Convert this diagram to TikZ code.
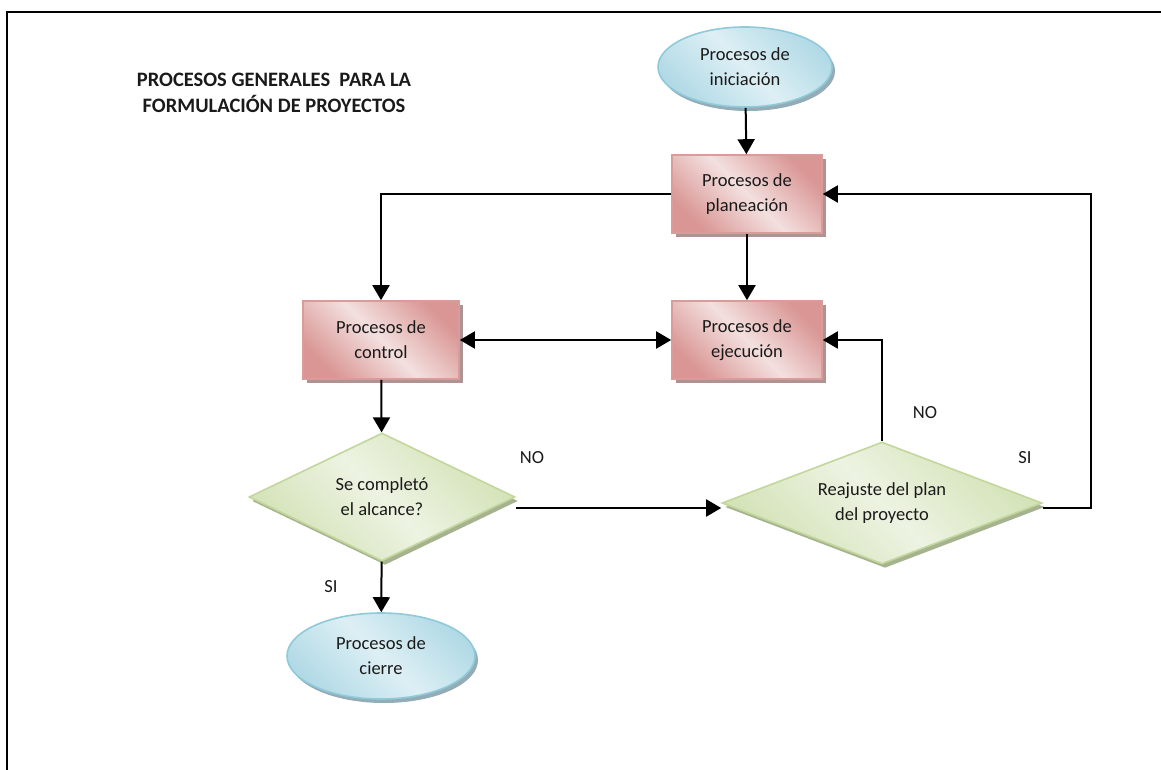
\documentclass[tikz,border=0pt]{standalone}
\usepackage{fontspec}
\setmainfont{Carlito}
\usetikzlibrary{shapes.geometric,arrows.meta,shadows}

\definecolor{txt}{HTML}{1A1A1A}
\definecolor{pinkdark}{HTML}{D99694}
\definecolor{pinklight}{HTML}{F3E0DF}
\definecolor{pinkline}{HTML}{DA9B9A}
\definecolor{pinkshadow}{HTML}{AE9393}
\definecolor{bluedark}{HTML}{B2DAE6}
\definecolor{bluelight}{HTML}{DDEFF4}
\definecolor{blueline}{HTML}{8FCADA}
\definecolor{blueshadow}{HTML}{93ACB5}
\definecolor{greendark}{HTML}{D3E2B6}
\definecolor{greenlight}{HTML}{EDF3E2}
\definecolor{greenline}{HTML}{C3D69B}
\definecolor{greenshadow}{HTML}{A6B38F}

\begin{document}
\begin{tikzpicture}[x=1pt,y=-1pt,
  >={Triangle[length=15pt,width=17pt]},
  every node/.style={font=\fontsize{18.5}{25}\selectfont, text=txt},
  proc/.style={rectangle, draw=pinkline, line width=1.6pt,
    minimum width=150pt, minimum height=78pt, inner sep=0pt, align=center,
    top color=pinkdark, bottom color=pinkdark, middle color=pinklight,
    shading angle=-45,
    drop shadow={shadow xshift=4pt, shadow yshift=-4pt, fill=pinkshadow, opacity=1}},
  term/.style={ellipse, draw=blueline, line width=1.6pt,
    inner sep=0pt, align=center,
    top color=bluedark, bottom color=bluedark, middle color=bluelight,
    shading angle=-45,
    drop shadow={shadow xshift=3pt, shadow yshift=-4pt, fill=blueshadow, opacity=1}},
  decision/.style={diamond, draw=greenline, line width=1.6pt, aspect=2,
    inner sep=0pt, align=center,
    top color=greendark, bottom color=greendark, middle color=greenlight,
    shading angle=-45,
    drop shadow={shadow xshift=3pt, shadow yshift=-4pt, fill=greenshadow, opacity=1}},
  arr/.style={line width=2pt, ->},
  lbl/.style={inner sep=0pt},
  heading/.style={font=\bfseries\fontsize{20.5}{26}\selectfont, align=center, inner sep=0pt}]

\useasboundingbox (0,0) rectangle (1161,770);

% page frame (left and top rules)
\draw[line width=2pt] (7,770) -- (7,12) -- (1161,12);

% heading
\node[heading] (title) at (274,93) {PROCESOS GENERALES\ \ PARA LA\\FORMULACIÓN DE PROYECTOS};

% process nodes
\node[term, minimum width=174pt, minimum height=80pt] (ini) at (745,67) {Procesos de\\iniciación};
\node[proc] (plan) at (747,194) {Procesos de\\planeación};
\node[proc, minimum width=156pt] (ctrl) at (381,340) {Procesos de\\control};
\node[proc] (ejec) at (747,340) {Procesos de\\ejecución};
\node[decision, minimum width=266pt, minimum height=128pt] (q1) at (382,497) {Se completó\\el alcance?};
\node[decision, minimum width=320pt, minimum height=122pt] (q2) at (882,503) {Reajuste del plan\\del proyecto};
\node[term, minimum width=188pt, minimum height=86pt] (fin) at (381,656) {Procesos de\\cierre};

% return column on the right and level of the NO branch
\coordinate (rt) at (1091,0);
\coordinate (lvl) at (0,508);

% connectors
\draw[arr] (ini) -- (plan);
\draw[arr] (plan.west) -| (ctrl.north);
\draw[arr] (plan) -- (ejec);
\draw[arr, <->] (ctrl) -- (ejec);
\draw[arr] (ctrl) -- (q1);
\draw[arr] (q1.east |- lvl) -- (q2.west |- lvl);
\draw[arr] (q2.north) |- (ejec.east);
\draw[arr] (q2.east |- lvl) -- (lvl -| rt) |- (plan.east);
\draw[arr] (q1) -- (fin);

% branch labels
\node[lbl] (noA) at (532,458) {NO};
\node[lbl] (noB) at (925,413) {NO};
\node[lbl] (siA) at (1025,458) {SI};
\node[lbl] (siB) at (331,587) {SI};
\end{tikzpicture}
\end{document}
